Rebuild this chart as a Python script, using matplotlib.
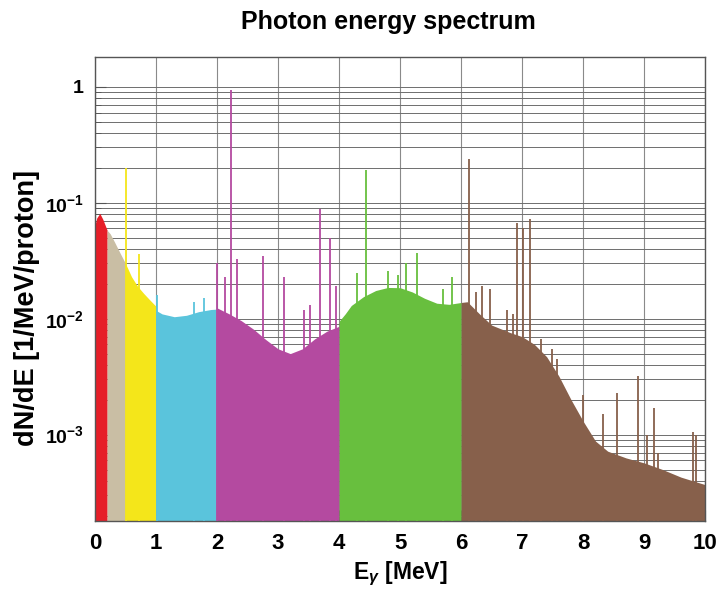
import matplotlib
matplotlib.use('Agg')
import matplotlib.pyplot as plt
from matplotlib.ticker import FixedLocator, FixedFormatter, NullFormatter

plt.rcParams['font.family'] = ['Liberation Sans', 'DejaVu Sans']
plt.rcParams['font.weight'] = 'bold'
plt.rcParams['mathtext.fontset'] = 'custom'
plt.rcParams['mathtext.rm'] = 'Liberation Sans:bold'
plt.rcParams['mathtext.bf'] = 'Liberation Sans:bold'
plt.rcParams['mathtext.it'] = 'Liberation Sans:bold:italic'

# energy ranges (MeV) and their colours
SEG_EDGES = [0.0, 0.2, 0.5, 1.0, 2.0, 4.0, 6.0, 10.0]
SEG_COLORS = ['#e61e28', '#c9bea4', '#f4e61a', '#5ac4dc', '#b44aa0', '#68bf3e', '#87604b']

# continuum envelope, one list per energy range
E_red = [0.0, 0.03, 0.08, 0.13, 0.2]
Y_red = [0.064, 0.074, 0.081, 0.072, 0.058]
E_tan = [0.2, 0.25, 0.32, 0.41, 0.5]
Y_tan = [0.058, 0.054, 0.046, 0.037, 0.030]
E_yel = [0.5, 0.6, 0.7, 0.8, 0.9, 1.0]
Y_yel = [0.030, 0.023, 0.019, 0.0165, 0.0145, 0.0128]
E_cya = [1.0, 1.1, 1.3, 1.5, 1.7, 1.9, 2.0]
Y_cya = [0.0118, 0.0110, 0.0104, 0.0107, 0.0115, 0.0120, 0.0121]
E_mag = [2.0, 2.2, 2.4, 2.6, 2.8, 3.0, 3.2, 3.4, 3.6, 3.8, 4.0]
Y_mag = [0.0124, 0.0110, 0.0096, 0.0081, 0.0066, 0.0055, 0.0050, 0.0055, 0.0067, 0.0078, 0.0086]
E_grn = [4.0, 4.1, 4.2, 4.4, 4.6, 4.8, 5.0, 5.2, 5.4, 5.6, 5.8, 6.0]
Y_grn = [0.0095, 0.0110, 0.0130, 0.0155, 0.0175, 0.0186, 0.0185, 0.0170, 0.0150, 0.0136, 0.0133, 0.0138]
E_brn = [6.0, 6.1, 6.3, 6.5, 6.8, 7.0, 7.2, 7.4, 7.6, 7.8, 8.0, 8.2, 8.4, 8.7, 9.0, 9.3, 9.6, 10.0]
Y_brn = [0.0138, 0.0140, 0.0110, 0.0088, 0.0076, 0.0070, 0.0060, 0.0047, 0.0032, 0.0020, 0.0013,
         0.00088, 0.00072, 0.00063, 0.00057, 0.00050, 0.00043, 0.00037]

# discrete lines on top of the continuum
LINE_E = [0.511, 0.72, 1.01, 1.63, 1.78, 2.0, 2.13, 2.223, 2.33, 2.76, 3.09, 3.42, 3.52,
          3.68, 3.85, 3.95, 4.30, 4.44, 4.80, 4.97, 5.10, 5.27, 5.70, 5.85,
          6.13, 6.25, 6.34, 6.47, 6.75, 6.85, 6.92, 7.02, 7.12, 7.30, 7.49, 7.57,
          8.00, 8.33, 8.56, 8.89, 9.05, 9.16, 9.23, 9.79, 9.84]
LINE_Y = [0.20, 0.036, 0.016, 0.014, 0.015, 0.030, 0.023, 0.93, 0.033, 0.035, 0.023, 0.012, 0.013,
          0.088, 0.050, 0.019, 0.025, 0.19, 0.026, 0.024, 0.030, 0.037, 0.018, 0.023,
          0.24, 0.017, 0.019, 0.018, 0.012, 0.011, 0.067, 0.060, 0.073, 0.0067, 0.0055, 0.0045,
          0.0022, 0.0015, 0.0023, 0.0032, 0.0010, 0.0017, 0.0007, 0.00105, 0.0010]

YMIN, YMAX = 1.8e-4, 1.8
Y_TICKS = [1e-3, 1e-2, 1e-1, 1.0]
Y_LABELS = [r'$10^{-3}$', r'$10^{-2}$', r'$10^{-1}$', '1']

fig = plt.figure(figsize=(7.19, 5.90), dpi=100)
ax = fig.add_axes([0.132, 0.117, 0.849, 0.786])

segments = [(E_red, Y_red), (E_tan, Y_tan), (E_yel, Y_yel), (E_cya, Y_cya),
            (E_mag, Y_mag), (E_grn, Y_grn), (E_brn, Y_brn)]
for (xs, ys), c in zip(segments, SEG_COLORS):
    ax.fill_between(xs, YMIN, ys, color=c, lw=0, zorder=2)

for e, y in zip(LINE_E, LINE_Y):
    idx = max(i for i in range(len(SEG_EDGES) - 1) if SEG_EDGES[i] <= e)
    ax.vlines(e, YMIN, y, color=SEG_COLORS[idx], lw=1.3, zorder=3)

ax.set_yscale('log')
ax.set_xlim(0, 10)
ax.set_ylim(YMIN, YMAX)
ax.set_xticks(range(11))
ax.yaxis.set_major_locator(FixedLocator(Y_TICKS))
ax.yaxis.set_major_formatter(FixedFormatter(Y_LABELS))
ax.yaxis.set_minor_formatter(NullFormatter())

ax.grid(True, axis='x', which='major', color='#8a8a8a', lw=0.8, zorder=1)
ax.grid(True, axis='y', which='both', color='#6e6e6e', lw=0.7, zorder=1)
ax.set_axisbelow(True)

ax.tick_params(axis='both', which='major', direction='in', length=8, width=0.8,
               pad=9, color='#555555')
ax.tick_params(axis='x', which='major', labelsize=16)
ax.tick_params(axis='y', which='major', labelsize=14, pad=8)
ax.tick_params(axis='y', which='minor', direction='in', length=4, width=0.6, color='#555555')
ax.tick_params(axis='x', which='minor', length=0)
for s in ax.spines.values():
    s.set_color('#555555')
    s.set_linewidth(1.0)

ax.set_title('Photon energy spectrum', fontsize=18, fontweight='bold', pad=20, x=0.48)
ax.set_xlabel(r'E$_{\gamma}$ [MeV]', fontsize=16.5, fontweight='bold', labelpad=4)
ax.set_ylabel('dN/dE [1/MeV/proton]', fontsize=19.5, fontweight='bold', labelpad=8)
ax.yaxis.set_label_coords(-0.09, 0.46)

fig.savefig('out.png', dpi=100)
